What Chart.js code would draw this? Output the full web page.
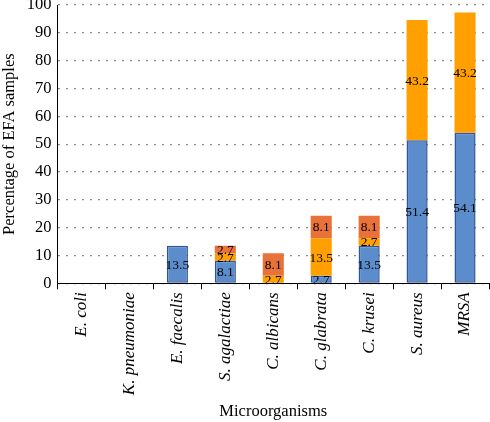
<!DOCTYPE html>
<html>
<head>
<meta charset="utf-8">
<script src="https://cdn.jsdelivr.net/npm/chart.js@4"></script>
<style>
  html, body { margin: 0; padding: 0; background: #fff; }
  #wrap { width: 490px; height: 422px; }
</style>
</head>
<body>
<div id="wrap"><canvas id="chart"></canvas></div>
<script>
// categories
const organisms = ['E. coli', 'K. pneumoniae', 'E. faecalis', 'S. agalactiae', 'C. albicans',
    'C. glabrata', 'C. krusei', 'S. aureus', 'MRSA'];
// stacked series (percentage of EFA samples)
const blueVals = [0, 0, 13.5, 8.1, 0, 2.7, 13.5, 51.4, 54.1];
const orangeVals = [0, 0, 0, 2.7, 2.7, 13.5, 2.7, 43.2, 43.2];
const redVals = [0, 0, 0, 2.7, 8.1, 8.1, 8.1, 0, 0];
const yTicks = [0, 10, 20, 30, 40, 50, 60, 70, 80, 90, 100];

const serif = '"Liberation Serif", "DejaVu Serif", serif';

// draws the value in the middle of each bar segment
const segmentLabels = {
    id: 'segmentLabels',
    afterDatasetsDraw(chart) {
        const ctx = chart.ctx;
        ctx.save();
        ctx.font = '13.5px ' + serif;
        ctx.fillStyle = '#000';
        ctx.textAlign = 'center';
        ctx.textBaseline = 'middle';
        chart.data.datasets.forEach((ds, i) => {
            chart.getDatasetMeta(i).data.forEach((bar, j) => {
                const v = ds.data[j];
                if (!v) return;
                ctx.fillText(v.toFixed(1), bar.x, (bar.y + bar.base) / 2 + 1);
            });
        });
        ctx.restore();
    }
};

new Chart(document.getElementById('chart'), {
    type: 'bar',
    data: {
        labels: organisms,
        datasets: [{
            label: 'Series 1',
            data: blueVals,
            backgroundColor: '#5b8dcc',
            borderColor: '#2f5597',
            borderWidth: 1.5,
            borderSkipped: false
        }, {
            label: 'Series 2',
            data: orangeVals,
            backgroundColor: '#ffa000'
        }, {
            label: 'Series 3',
            data: redVals,
            backgroundColor: '#e9723b'
        }]
    },
    options: {
        responsive: true,
        maintainAspectRatio: false,
        animation: false,
        layout: { padding: { top: 5, right: 1, left: 0, bottom: 0 } },
        datasets: {
            bar: { barPercentage: 0.44, categoryPercentage: 1 }
        },
        plugins: {
            legend: { display: false },
            tooltip: { enabled: false }
        },
        scales: {
            x: {
                stacked: true,
                grid: {
                    offset: true,
                    drawOnChartArea: false,
                    drawTicks: true,
                    tickLength: 6,
                    color: '#000'
                },
                border: { color: '#000', width: 1 },
                ticks: {
                    color: '#000',
                    minRotation: 90,
                    maxRotation: 90,
                    autoSkip: false,
                    padding: 3,
                    font: { family: serif, size: 17, style: 'italic' }
                },
                title: {
                    display: true,
                    text: 'Microorganisms',
                    color: '#000',
                    font: { family: serif, size: 16.5 },
                    padding: { top: 4, bottom: 0 }
                }
            },
            y: {
                stacked: true,
                min: 0,
                max: 100,
                afterBuildTicks(axis) {
                    axis.ticks = yTicks.map(v => ({ value: v }));
                },
                afterFit(axis) {
                    // let the "100" label sit against the top edge
                    axis.paddingTop = 0;
                },
                grid: {
                    color: '#8a8a8a',
                    lineWidth: 1.2,
                    drawTicks: false
                },
                border: { color: '#000', width: 1, dash: [2, 6] },
                ticks: {
                    color: '#000',
                    padding: 6,
                    font: { family: serif, size: 16.5 }
                },
                title: {
                    display: true,
                    text: 'Percentage of EFA samples',
                    color: '#000',
                    font: { family: serif, size: 16.5 },
                    padding: { top: 0, bottom: 1 }
                }
            }
        }
    },
    plugins: [segmentLabels]
});
</script>
</body>
</html>
